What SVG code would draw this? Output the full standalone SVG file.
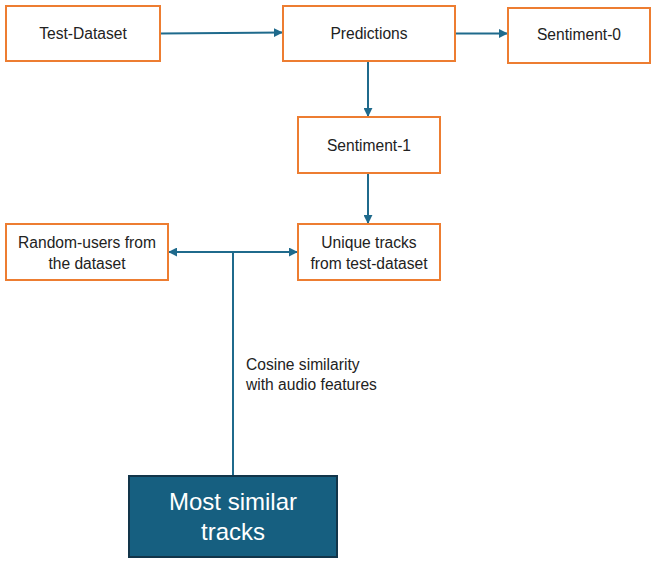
<svg xmlns="http://www.w3.org/2000/svg" width="656" height="572" viewBox="0 0 656 572">
<style>
.box{fill:#fff;stroke:#ED7D31;stroke-width:2}
.t{font-family:"Liberation Sans",Arial,sans-serif;font-size:15.6px;fill:#222;text-anchor:middle}
.c{stroke:#1F6A8C;stroke-width:2;fill:none}
.lbl{font-family:"Liberation Sans",Arial,sans-serif;font-size:15.6px;fill:#222}
.w{font-family:"Liberation Sans",Arial,sans-serif;font-size:24px;fill:#fff;text-anchor:middle}
</style>
<defs>
<marker id="ah" viewBox="0 0 10 10" refX="9" refY="5" markerWidth="4.5" markerHeight="4.5" orient="auto-start-reverse" markerUnits="strokeWidth">
<path d="M0,0 L10,5 L0,10 z" fill="#1F6A8C"/>
</marker>
</defs>
<rect width="656" height="572" fill="#fff"/>
<g id="connectors">
<line class="c" x1="160" y1="33.5" x2="282" y2="32.5" marker-end="url(#ah)"/>
<line class="c" x1="455" y1="33.5" x2="507" y2="33.5" marker-end="url(#ah)"/>
<line class="c" x1="368" y1="61" x2="368" y2="116" marker-end="url(#ah)"/>
<line class="c" x1="368" y1="173" x2="368" y2="223" marker-end="url(#ah)"/>
<line class="c" x1="169" y1="252" x2="297" y2="252" marker-start="url(#ah)" marker-end="url(#ah)"/>
<line class="c" x1="233" y1="252" x2="233" y2="476"/>
<text class="lbl" x="246" y="370">Cosine similarity</text>
<text class="lbl" x="246" y="390">with audio features</text>
</g>
<g id="test-dataset">
<rect class="box" x="6" y="6" width="154" height="55"/>
<text class="t" x="83" y="39">Test-Dataset</text>
</g>
<g id="predictions">
<rect class="box" x="283" y="6" width="172" height="55"/>
<text class="t" x="369" y="39">Predictions</text>
</g>
<g id="sentiment-0">
<rect class="box" x="508" y="8" width="142" height="55"/>
<text class="t" x="579" y="40">Sentiment-0</text>
</g>
<g id="sentiment-1">
<rect class="box" x="298" y="117" width="142" height="56"/>
<text class="t" x="369" y="151">Sentiment-1</text>
</g>
<g id="random-users">
<rect class="box" x="6" y="224" width="162" height="56"/>
<text class="t" x="87" y="248">Random-users from</text>
<text class="t" x="87" y="269">the dataset</text>
</g>
<g id="unique-tracks">
<rect class="box" x="298" y="224" width="142" height="56"/>
<text class="t" x="369" y="248">Unique tracks</text>
<text class="t" x="369" y="269">from test-dataset</text>
</g>
<g id="most-similar">
<rect x="129" y="476" width="208" height="81" fill="#165F80" stroke="#12354A" stroke-width="2"/>
<text class="w" x="233" y="510">Most similar</text>
<text class="w" x="233" y="540">tracks</text>
</g>
</svg>
